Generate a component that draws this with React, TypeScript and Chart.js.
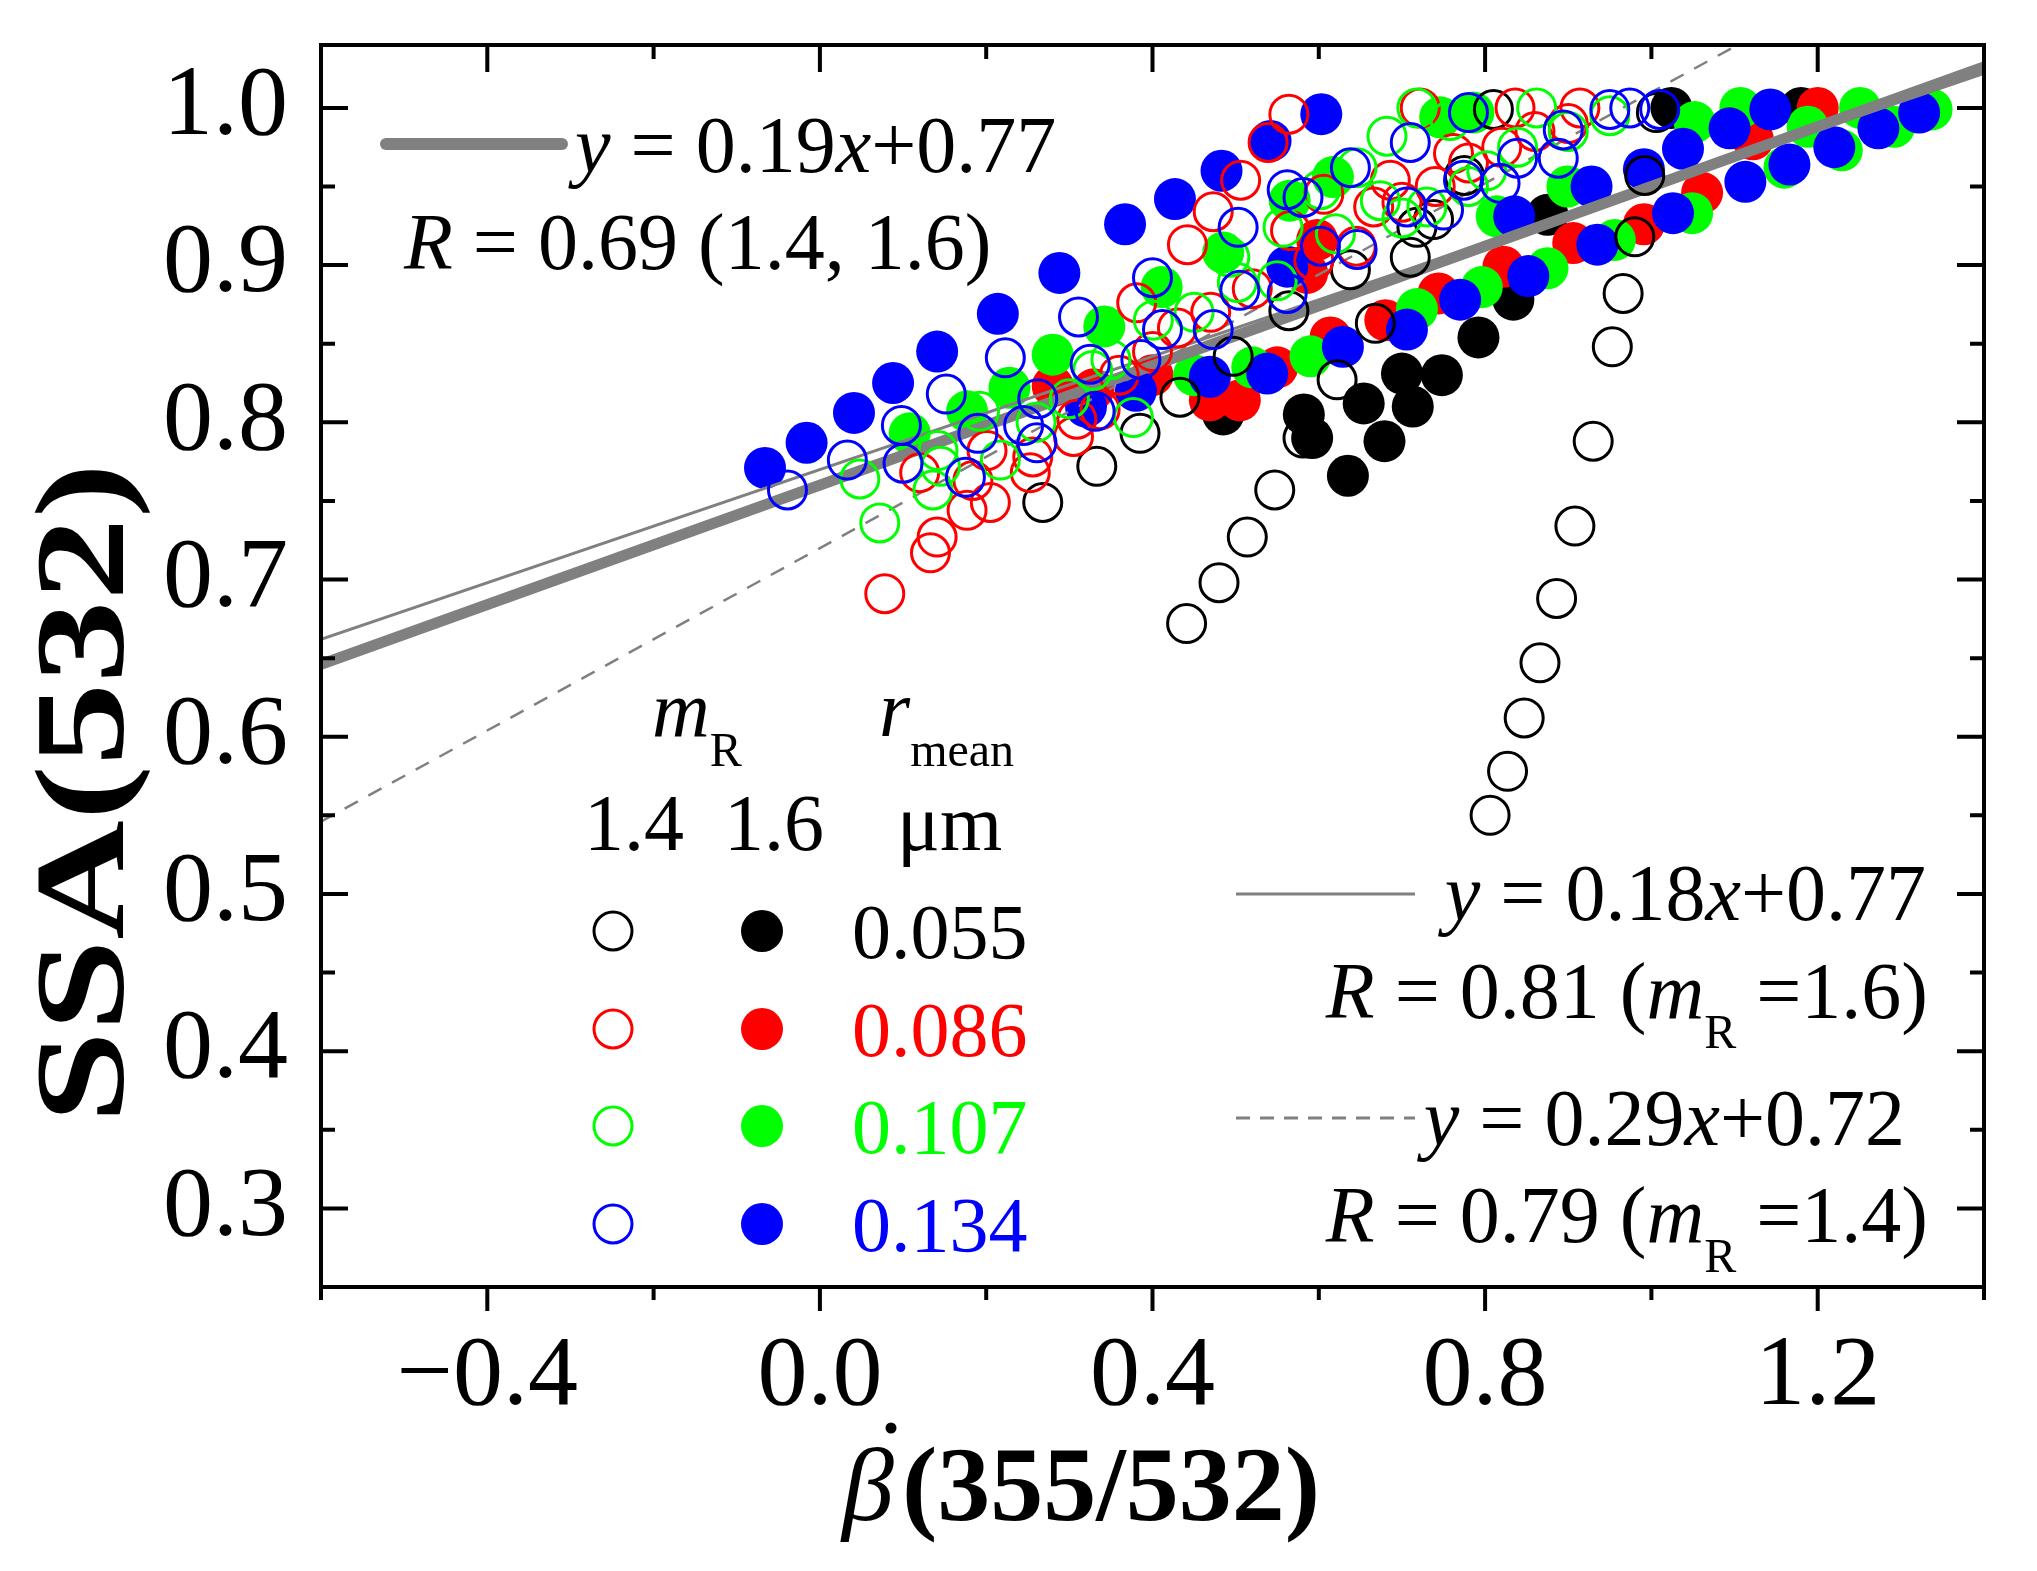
import React, { useEffect, useRef } from 'react';
import { Chart, registerables } from 'chart.js';

Chart.register(...registerables);

const SERIF = '"Liberation Serif", "Times New Roman", serif';

// r_mean (µm) and colours
const radii = ['0.055', '0.086', '0.107', '0.134'];
const radiusColors = ['#000000', '#ff0000', '#00ff00', '#0000ff'];

// m_R = 1.4 (open circles)
const open055 = [
    [0.806, 0.55], [0.827, 0.578], [0.847, 0.612], [0.866, 0.647], [0.886, 0.688], [0.908, 0.734],
    [0.93, 0.788], [0.953, 0.848], [0.966, 0.882], [0.98, 0.918], [0.992, 0.957], [1.006, 0.997],
    [0.441, 0.672], [0.48, 0.698], [0.514, 0.727], [0.547, 0.757], [0.581, 0.79], [0.622, 0.827],
    [0.668, 0.863], [0.71, 0.905], [0.738, 0.929], [0.775, 0.957], [0.81, 0.999],
    [0.268, 0.749], [0.333, 0.772], [0.385, 0.793], [0.433, 0.816], [0.497, 0.842], [0.564, 0.871],
    [0.638, 0.897], [0.718, 0.924]
];
const open086 = [
    [0.078, 0.691], [0.133, 0.717], [0.141, 0.727], [0.177, 0.744], [0.205, 0.749], [0.12, 0.768],
    [0.184, 0.763], [0.201, 0.782], [0.253, 0.768], [0.256, 0.778], [0.305, 0.791], [0.309, 0.802],
    [0.337, 0.808], [0.36, 0.83], [0.4, 0.845], [0.43, 0.86], [0.47, 0.87], [0.52, 0.885],
    [0.381, 0.876], [0.442, 0.913], [0.473, 0.934], [0.506, 0.954], [0.539, 0.978], [0.564, 0.996],
    [0.566, 0.922], [0.594, 0.903], [0.645, 0.912], [0.606, 0.945], [0.666, 0.937], [0.686, 0.954],
    [0.7, 0.94], [0.74, 0.95], [0.762, 0.971], [0.78, 0.965], [0.82, 0.975], [0.86, 0.985],
    [0.722, 1.0], [0.836, 1.0], [0.914, 1.0], [0.9, 0.99]
];
const open107 = [
    [0.048, 0.764], [0.072, 0.736], [0.136, 0.757], [0.142, 0.782], [0.145, 0.772], [0.192, 0.807],
    [0.217, 0.776], [0.26, 0.8], [0.3, 0.815], [0.328, 0.833], [0.35, 0.84], [0.377, 0.803],
    [0.401, 0.865], [0.45, 0.87], [0.493, 0.905], [0.502, 0.889], [0.55, 0.89], [0.557, 0.924],
    [0.602, 0.948], [0.62, 0.92], [0.646, 0.962], [0.674, 0.941], [0.682, 0.982], [0.7, 0.93],
    [0.718, 1.0], [0.73, 0.937], [0.758, 0.992], [0.78, 0.95], [0.802, 0.96], [0.839, 0.975],
    [0.862, 1.0], [0.9, 0.985], [0.95, 0.995]
];
const open134 = [
    [-0.039, 0.757], [0.033, 0.776], [0.098, 0.798], [0.152, 0.818], [0.223, 0.841], [0.311, 0.867],
    [0.4, 0.892], [0.1, 0.774], [0.175, 0.765], [0.19, 0.793], [0.245, 0.798], [0.262, 0.815],
    [0.261, 0.787], [0.325, 0.837], [0.331, 0.807], [0.386, 0.84], [0.412, 0.859], [0.473, 0.859],
    [0.505, 0.884], [0.503, 0.924], [0.562, 0.948], [0.562, 0.882], [0.581, 0.943], [0.602, 0.912],
    [0.646, 0.91], [0.638, 0.962], [0.706, 0.937], [0.71, 0.978], [0.75, 0.935], [0.774, 0.954],
    [0.78, 0.997], [0.818, 0.952], [0.839, 0.968], [0.888, 0.968], [0.894, 0.986], [0.95, 0.999],
    [0.974, 1.0], [1.01, 0.999]
];

// m_R = 1.6 (filled circles)
const filled055 = [
    [0.485, 0.805], [0.582, 0.805], [0.592, 0.79], [0.635, 0.766], [0.654, 0.812], [0.679, 0.788],
    [0.7, 0.831], [0.713, 0.81], [0.748, 0.83], [0.792, 0.854], [0.834, 0.878], [0.875, 0.932],
    [1.024, 1.0], [1.18, 1.0]
];
const filled086 = [
    [0.28, 0.823], [0.329, 0.821], [0.4, 0.83], [0.469, 0.814], [0.505, 0.814], [0.55, 0.835],
    [0.586, 0.895], [0.598, 0.916], [0.614, 0.854], [0.68, 0.865], [0.744, 0.882], [0.822, 0.899],
    [0.906, 0.914], [0.991, 0.926], [1.061, 0.946], [1.122, 0.98], [1.2, 1.0]
];
const filled107 = [
    [0.108, 0.793], [0.177, 0.807], [0.228, 0.822], [0.28, 0.843], [0.342, 0.861], [0.411, 0.886],
    [0.485, 0.908], [0.565, 0.941], [0.617, 0.956], [0.746, 0.994], [0.786, 0.997],
    [0.45, 0.83], [0.52, 0.835], [0.59, 0.842], [0.718, 0.872], [0.796, 0.886], [0.875, 0.898],
    [0.956, 0.916], [1.049, 0.933], [1.16, 0.962], [1.229, 0.973], [1.292, 0.988], [1.337, 0.999],
    [0.814, 0.931], [0.899, 0.95], [1.052, 0.991], [1.107, 1.0], [1.188, 0.988], [1.251, 1.0]
];
const filled134 = [
    [-0.066, 0.771], [-0.016, 0.787], [0.041, 0.806], [0.088, 0.825], [0.141, 0.845], [0.214, 0.869],
    [0.288, 0.895], [0.367, 0.926], [0.427, 0.942], [0.483, 0.96], [0.542, 0.979], [0.603, 0.996],
    [0.32, 0.81], [0.38, 0.82], [0.469, 0.829], [0.538, 0.831], [0.629, 0.848], [0.706, 0.859],
    [0.77, 0.878], [0.852, 0.893], [0.935, 0.913], [1.026, 0.933], [1.113, 0.953], [1.166, 0.964],
    [1.22, 0.975], [1.273, 0.987], [1.322, 0.997],
    [0.562, 0.899], [0.835, 0.931], [0.928, 0.95], [0.991, 0.961], [1.038, 0.974], [1.094, 0.987],
    [1.143, 0.999]
];

const openSeries = [open055, open086, open107, open134];
const filledSeries = [filled055, filled086, filled107, filled134];

// fitted lines as drawn: all points, m_R=1.6, m_R=1.4
const fitSlopes = [0.19, 0.18, 0.29];
const fitIntercepts = [0.76, 0.77, 0.72];
const fitWidths = [11, 3, 2.5];
const fitDashes = [[], [], [15, 12]];

const xMin = -0.6;
const xMax = 1.4;
const yMin = 0.25;
const yMax = 1.04;
const xTickValues = [-0.4, 0.0, 0.4, 0.8, 1.2];
const xTickLabels = ['\u22120.4', '0.0', '0.4', '0.8', '1.2'];
const xMinorTicks = [-0.6, -0.2, 0.2, 0.6, 1.0, 1.4];
const yTickValues = [0.3, 0.4, 0.5, 0.6, 0.7, 0.8, 0.9, 1.0];
const yTickLabels = ['0.3', '0.4', '0.5', '0.6', '0.7', '0.8', '0.9', '1.0'];
const yMinorTicks = [0.25, 0.35, 0.45, 0.55, 0.65, 0.75, 0.85, 0.95];

type Run = [string, string];

function runFont(kind: string, size: number) {
    if (kind === 'i') return `italic ${size}px ${SERIF}`;
    if (kind === 's') return `${Math.round(size * 0.6)}px ${SERIF}`;
    if (kind === 'b') return `bold ${size}px ${SERIF}`;
    return `${size}px ${SERIF}`;
}

function drawRuns(ctx, runs: Run[], x: number, baseline: number, size: number, align: string, color: string) {
    const widths = runs.map(([t, k]) => {
        ctx.font = runFont(k, size);
        return ctx.measureText(t).width;
    });
    const total = widths.reduce((a, b) => a + b, 0);
    let cx = align === 'right' ? x - total : x;
    ctx.fillStyle = color;
    ctx.textAlign = 'left';
    ctx.textBaseline = 'alphabetic';
    runs.forEach(([t, k], i) => {
        ctx.font = runFont(k, size);
        ctx.fillText(t, cx, baseline + (k === 's' ? size * 0.38 : 0));
        cx += widths[i];
    });
}

const framePlugin = {
    id: 'frame',
    afterDraw(chart) {
        const { ctx, chartArea } = chart;
        const { left, top, right, bottom } = chartArea;
        const xs = chart.scales.x;
        const ys = chart.scales.y;
        ctx.save();
        ctx.strokeStyle = '#000';
        ctx.lineWidth = 4;
        ctx.strokeRect(left, top, right - left, bottom - top);
        ctx.beginPath();
        const xt = [...xTickValues.map(v => [v, true]), ...xMinorTicks.map(v => [v, false])];
        xt.forEach(([v, major]) => {
            const px = xs.getPixelForValue(v as number);
            ctx.moveTo(px, bottom);
            ctx.lineTo(px, bottom + (major ? 24 : 13));
            ctx.moveTo(px, top);
            ctx.lineTo(px, top + (major ? 27 : 14));
        });
        const yt = [...yTickValues.map(v => [v, true]), ...yMinorTicks.map(v => [v, false])];
        yt.forEach(([v, major]) => {
            const py = ys.getPixelForValue(v as number);
            ctx.moveTo(left, py);
            ctx.lineTo(left + (major ? 27 : 14), py);
            ctx.moveTo(right, py);
            ctx.lineTo(right - (major ? 27 : 14), py);
        });
        ctx.stroke();

        // axis titles
        ctx.save();
        ctx.translate(123, 793);
        ctx.rotate(-Math.PI / 2);
        ctx.font = `bold 128px ${SERIF}`;
        const tw = ctx.measureText('SSA(532)').width;
        ctx.scale(660 / tw, 1);
        ctx.fillStyle = '#000';
        ctx.textAlign = 'center';
        ctx.textBaseline = 'alphabetic';
        ctx.fillText('SSA(532)', 0, 0);
        ctx.restore();

        ctx.fillStyle = '#000';
        ctx.textBaseline = 'alphabetic';
        ctx.textAlign = 'left';
        ctx.font = `italic 104px ${SERIF}`;
        ctx.fillText('\u03b2', 842, 1520);
        ctx.beginPath();
        ctx.arc(891, 1428, 5.5, 0, Math.PI * 2);
        ctx.fill();
        ctx.font = `bold 106px ${SERIF}`;
        ctx.fillText('(355/532)', 902, 1520);

        // fit legends
        ctx.strokeStyle = '#808080';
        ctx.lineCap = 'round';
        ctx.lineWidth = 12;
        ctx.beginPath();
        ctx.moveTo(386, 144);
        ctx.lineTo(562, 144);
        ctx.stroke();
        ctx.lineCap = 'butt';
        ctx.lineWidth = 3;
        ctx.beginPath();
        ctx.moveTo(1236, 894);
        ctx.lineTo(1415, 894);
        ctx.stroke();
        ctx.setLineDash([14, 10]);
        ctx.beginPath();
        ctx.moveTo(1236, 1118);
        ctx.lineTo(1415, 1118);
        ctx.stroke();
        ctx.setLineDash([]);

        drawRuns(ctx, [['y', 'i'], [' = 0.19', 'n'], ['x', 'i'], ['+0.77', 'n']], 575, 172, 80, 'left', '#000');
        drawRuns(ctx, [['R', 'i'], [' = 0.69 (1.4, 1.6)', 'n']], 404, 269, 80, 'left', '#000');
        drawRuns(ctx, [['y', 'i'], [' = 0.18', 'n'], ['x', 'i'], ['+0.77', 'n']], 1926, 920, 80, 'right', '#000');
        drawRuns(ctx, [['R', 'i'], [' = 0.81 (', 'n'], ['m', 'i'], ['R', 's'], [' =1.6)', 'n']], 1928, 1018, 80, 'right', '#000');
        drawRuns(ctx, [['y', 'i'], [' = 0.29', 'n'], ['x', 'i'], ['+0.72', 'n']], 1905, 1145, 80, 'right', '#000');
        drawRuns(ctx, [['R', 'i'], [' = 0.79 (', 'n'], ['m', 'i'], ['R', 's'], [' =1.4)', 'n']], 1928, 1242, 80, 'right', '#000');

        // symbol legend
        drawRuns(ctx, [['m', 'i'], ['R', 's']], 652, 736, 80, 'left', '#000');
        drawRuns(ctx, [['r', 'i'], ['mean', 's']], 879, 736, 80, 'left', '#000');
        drawRuns(ctx, [['1.4', 'n']], 584, 850, 80, 'left', '#000');
        drawRuns(ctx, [['1.6', 'n']], 724, 850, 80, 'left', '#000');
        drawRuns(ctx, [['\u03bcm', 'n']], 897, 850, 80, 'left', '#000');
        const rows = [931, 1029, 1126, 1224];
        radii.forEach((r, i) => {
            const c = radiusColors[i];
            ctx.strokeStyle = c;
            ctx.lineWidth = 3;
            ctx.beginPath();
            ctx.arc(613, rows[i], 19, 0, Math.PI * 2);
            ctx.stroke();
            ctx.fillStyle = c;
            ctx.beginPath();
            ctx.arc(762, rows[i], 21, 0, Math.PI * 2);
            ctx.fill();
            drawRuns(ctx, [[r, 'n']], 852, rows[i] + 27, 78, 'left', c);
        });
        ctx.restore();
    }
};

export default function App() {
    const canvas = useRef(null);

    useEffect(() => {
        document.body.style.margin = '0';
        const datasets: any[] = [];
        openSeries.forEach((pts, i) => {
            datasets.push({
                label: `${radii[i]} (1.4)`,
                data: pts.map(([x, y]) => ({ x, y })),
                pointRadius: 19,
                pointBorderWidth: 3,
                pointBorderColor: radiusColors[i],
                pointBackgroundColor: 'rgba(0,0,0,0)',
                borderColor: radiusColors[i],
                backgroundColor: 'rgba(0,0,0,0)',
                showLine: false,
                order: 3 - i
            });
        });
        fitSlopes.forEach((a, i) => {
            datasets.push({
                label: `fit ${i}`,
                data: [xMin, xMax].map(x => ({ x, y: a * x + fitIntercepts[i] })),
                showLine: true,
                pointRadius: 0,
                borderColor: '#808080',
                borderWidth: fitWidths[i],
                borderDash: fitDashes[i],
                fill: false,
                order: 4 + i
            });
        });
        filledSeries.forEach((pts, i) => {
            datasets.push({
                label: `${radii[i]} (1.6)`,
                data: pts.map(([x, y]) => ({ x, y })),
                pointRadius: 21,
                pointBorderWidth: 0,
                pointBackgroundColor: radiusColors[i],
                pointBorderColor: radiusColors[i],
                backgroundColor: radiusColors[i],
                borderColor: radiusColors[i],
                showLine: false,
                order: 10 - i
            });
        });

        const chart = new Chart(canvas.current, {
            type: 'scatter',
            data: { datasets },
            options: {
                responsive: false,
                animation: false,
                layout: { padding: { left: 0, top: 45, right: 53, bottom: 0 } },
                plugins: {
                    legend: { display: false },
                    tooltip: { enabled: false }
                },
                scales: {
                    x: {
                        type: 'linear',
                        min: xMin,
                        max: xMax,
                        grid: { display: false, drawTicks: false },
                        border: { display: false },
                        afterBuildTicks: (s) => { s.ticks = xTickValues.map(v => ({ value: v })); },
                        afterFit: (s) => {
                            s.height = 284;
                            s.paddingLeft = 0;
                            s.paddingRight = 0;
                            s.paddingTop = 0;
                            s.paddingBottom = 0;
                        },
                        ticks: {
                            autoSkip: false,
                            maxRotation: 0,
                            padding: 31,
                            color: '#000',
                            font: { family: SERIF, size: 100 },
                            callback: (v, i) => xTickLabels[i]
                        }
                    },
                    y: {
                        type: 'linear',
                        min: yMin,
                        max: yMax,
                        grid: { display: false, drawTicks: false },
                        border: { display: false },
                        afterBuildTicks: (s) => { s.ticks = yTickValues.map(v => ({ value: v })); },
                        afterFit: (s) => {
                            s.width = 321;
                            s.paddingLeft = 0;
                            s.paddingRight = 0;
                            s.paddingTop = 0;
                            s.paddingBottom = 0;
                        },
                        ticks: {
                            autoSkip: false,
                            padding: 33,
                            color: '#000',
                            font: { family: SERIF, size: 100 },
                            callback: (v, i) => yTickLabels[i]
                        }
                    }
                }
            },
            plugins: [framePlugin]
        });
        return () => {
            chart.destroy();
        };
    }, []);

    return (
        <div style={{ width: 2037, height: 1571, position: 'relative', background: '#fff' }}>
            <canvas ref={canvas} width={2037} height={1571} style={{ display: 'block' }}></canvas>
        </div>
    );
}
